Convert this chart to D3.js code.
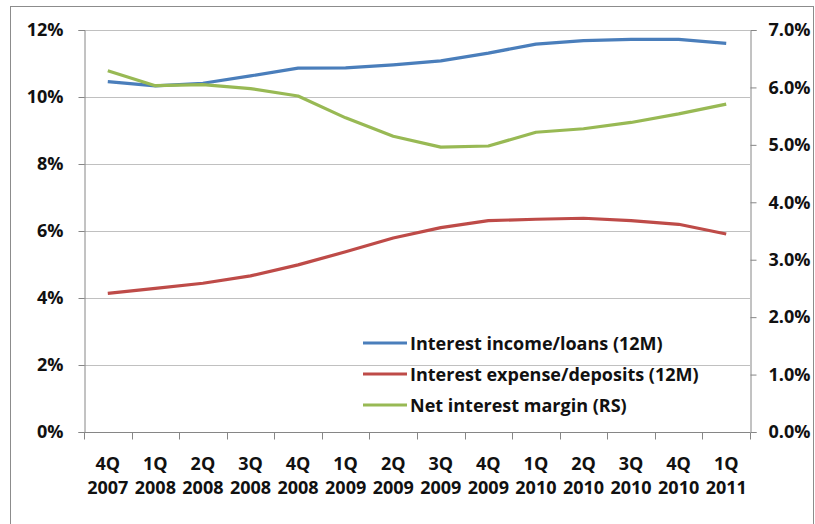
<!DOCTYPE html>
<html>
<head>
<meta charset="utf-8">
<script src="https://cdn.jsdelivr.net/npm/d3@7"></script>
<style>
  html, body { margin: 0; padding: 0; background: #fff; }
  svg { display: block; }
  text { font-family: "Open Sans", Lato, sans-serif; font-weight: 700; fill: #111; }
</style>
</head>
<body>
<script>
// Quarter labels (two lines each)
const quarters = ["4Q","1Q","2Q","3Q","4Q","1Q","2Q","3Q","4Q","1Q","2Q","3Q","4Q","1Q"];
const years    = ["2007","2008","2008","2008","2008","2009","2009","2009","2009","2010","2010","2010","2010","2011"];

// Series, in percent
const incomeLoans     = [10.46, 10.33, 10.41, 10.63, 10.86, 10.87, 10.96, 11.08, 11.31, 11.58, 11.68, 11.72, 11.72, 11.60];
const expenseDeposits = [4.14, 4.29, 4.44, 4.66, 4.99, 5.38, 5.79, 6.10, 6.31, 6.35, 6.38, 6.31, 6.20, 5.91];
const netMargin       = [6.29, 6.03, 6.05, 5.98, 5.85, 5.47, 5.15, 4.96, 4.98, 5.22, 5.28, 5.39, 5.54, 5.71];

const leftTicks  = [0, 2, 4, 6, 8, 10, 12];
const rightTicks = [0, 1, 2, 3, 4, 5, 6, 7];

const seriesNames = ["Interest income/loans (12M)", "Interest expense/deposits (12M)", "Net interest margin (RS)"];
const seriesColors = ["#4a7ebb", "#be4b48", "#98b954"];

const W = 815, H = 524;
const plot = { left: 84, right: 750, top: 30, bottom: 432 };
const FONT = "18px";

const svg = d3.select("body").append("svg").attr("width", W).attr("height", H);

// outer chart frame
svg.append("rect")
  .attr("x", 10.5).attr("y", 6.5)
  .attr("width", 803).attr("height", 530)
  .attr("fill", "none").attr("stroke", "#8c8c8c").attr("stroke-width", 1);

const cats = quarters.map((q, i) => i);
const x = d3.scaleBand().domain(cats).range([plot.left, plot.right]);
const yL = d3.scaleLinear().domain([0, 12]).range([plot.bottom, plot.top]);
const yR = d3.scaleLinear().domain([0, 7]).range([plot.bottom, plot.top]);
const cx = i => x(i) + x.bandwidth() / 2;

// horizontal gridlines on the left scale
svg.append("g").selectAll("line").data(leftTicks.filter(d => d > 0)).join("line")
  .attr("x1", plot.left).attr("x2", plot.right)
  .attr("y1", d => Math.round(yL(d)) + 0.5).attr("y2", d => Math.round(yL(d)) + 0.5)
  .attr("stroke", "#c0c0c0").attr("stroke-width", 1);

// left axis
const gL = svg.append("g").attr("transform", `translate(${plot.left + 0.5},0)`)
  .call(d3.axisLeft(yL).tickValues(leftTicks).tickSize(6).tickPadding(15).tickFormat(d => d + "%"));
// right axis
const gR = svg.append("g").attr("transform", `translate(${plot.right + 0.5},0)`)
  .call(d3.axisRight(yR).tickValues(rightTicks).tickSize(6).tickPadding(12).tickFormat(d => d.toFixed(1) + "%"));
// bottom axis: ticks sit on category boundaries
const gB = svg.append("g").attr("transform", `translate(0,${plot.bottom + 0.5})`);
gB.append("line").attr("x1", plot.left).attr("x2", plot.right).attr("stroke", "#868686");
gB.selectAll("line.tick").data(d3.range(quarters.length + 1)).join("line")
  .attr("class", "tick")
  .attr("x1", i => Math.round(plot.left + i * x.bandwidth()) + 0.5)
  .attr("x2", i => Math.round(plot.left + i * x.bandwidth()) + 0.5)
  .attr("y1", 0).attr("y2", 7).attr("stroke", "#868686");
const lbl = gB.selectAll("text").data(cats).join("text")
  .attr("text-anchor", "middle").style("font-size", FONT);
lbl.append("tspan").attr("x", cx).attr("y", 37).text(i => quarters[i]);
lbl.append("tspan").attr("x", cx).attr("y", 61).text(i => years[i]);

[gL, gR].forEach(g => {
  g.select(".domain").attr("stroke", "#868686");
  g.selectAll(".tick line").attr("stroke", "#868686");
  g.selectAll(".tick text").style("font-size", FONT).attr("fill", "#111")
    .style("font-family", "'Open Sans', Lato, sans-serif").style("font-weight", 700);
});

// lines
const lineL = d3.line().x((d, i) => cx(i)).y(d => yL(d));
const lineR = d3.line().x((d, i) => cx(i)).y(d => yR(d));
const paths = [[incomeLoans, lineL], [expenseDeposits, lineL], [netMargin, lineR]];
paths.forEach(([data, gen], k) => {
  svg.append("path").datum(data).attr("d", gen)
    .attr("fill", "none").attr("stroke", seriesColors[k])
    .attr("stroke-width", 3.2).attr("stroke-linejoin", "round").attr("stroke-linecap", "butt");
});

// legend
const leg = svg.append("g").attr("transform", "translate(363,343)");
seriesNames.forEach((name, k) => {
  const row = leg.append("g").attr("transform", `translate(0,${k * 31})`);
  row.append("line").attr("x1", 0).attr("x2", 44).attr("y1", 0).attr("y2", 0)
    .attr("stroke", seriesColors[k]).attr("stroke-width", 3.2);
  row.append("text").attr("x", 47).attr("y", 6.5).style("font-size", FONT).text(name);
});
</script>
</body>
</html>
